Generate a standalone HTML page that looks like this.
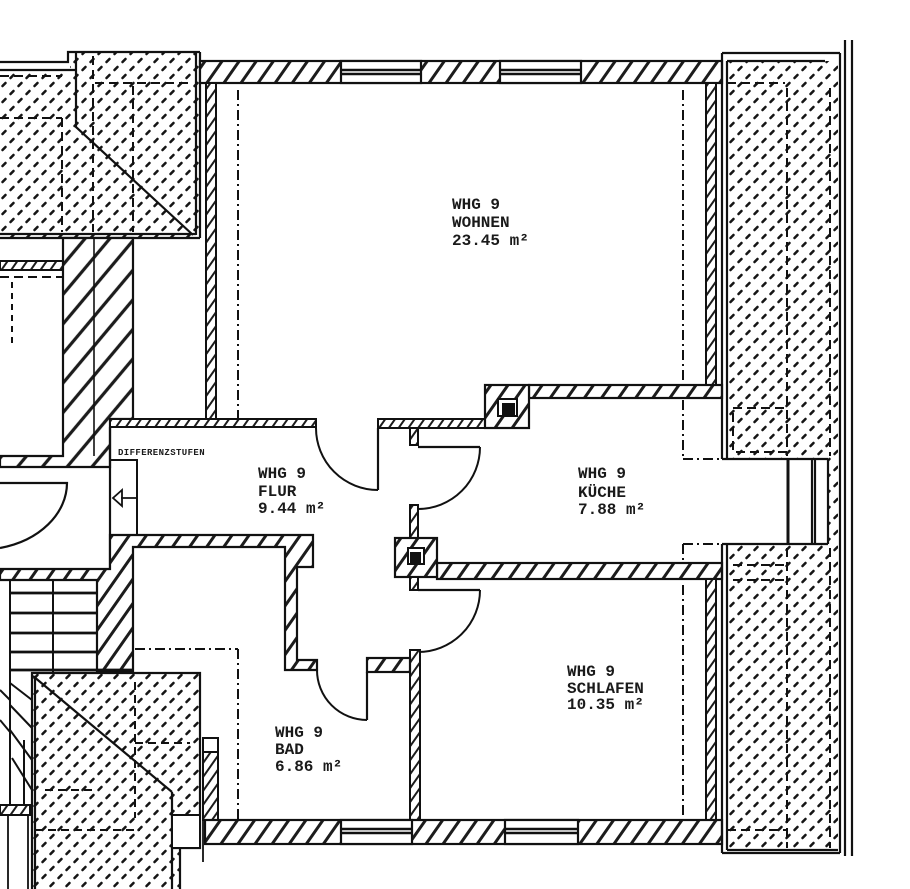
<!DOCTYPE html>
<html><head><meta charset="utf-8"><style>
html,body{margin:0;padding:0;background:#fff;}
svg{display:block;}
text{font-family:"Liberation Mono","DejaVu Sans Mono",monospace;font-weight:bold;fill:#1a1a1a;}
</style></head><body>
<svg xmlns="http://www.w3.org/2000/svg" width="910" height="889" viewBox="0 0 910 889">
<defs>
 <pattern id="h" width="14" height="14" patternUnits="userSpaceOnUse" patternTransform="rotate(35)"><rect width="14" height="14" fill="#fff"/><line x1="7" y1="-1" x2="7" y2="15" stroke="#1c1c1c" stroke-width="3"/></pattern>
 <pattern id="hb" width="19" height="19" patternUnits="userSpaceOnUse" patternTransform="rotate(40)"><rect width="19" height="19" fill="#fff"/><line x1="9.5" y1="-1" x2="9.5" y2="20" stroke="#1c1c1c" stroke-width="3.2"/></pattern>
 <pattern id="hs" width="8" height="8" patternUnits="userSpaceOnUse" patternTransform="rotate(35)"><rect width="8" height="8" fill="#fff"/><line x1="4" y1="-1" x2="4" y2="9" stroke="#1c1c1c" stroke-width="2"/></pattern>
 <pattern id="d" width="16" height="16" patternUnits="userSpaceOnUse"><rect width="16" height="16" fill="#fff"/><path d="M2.5 6L5.5 3M10.5 14L13.5 11" stroke="#151515" stroke-width="2.6" stroke-linecap="round"/></pattern>
</defs>
<rect width="910" height="889" fill="#fff"/>

<g stroke="#111" stroke-width="2" fill="none">

<!-- ===== top-left dotted block ===== -->
<path d="M0,72 H70 V52 H200 V238 H0 Z" fill="url(#d)" stroke="none"/>
<path d="M0,62 H68 V52 H200 M0,70 H76 M76,52 V127 L193,235 M196,52 V235 M200,52 V238 M0,234 H196 M0,238 H200" stroke-width="2.2"/>
<path d="M62,118 V232 M93,56 V232 M133,86 V232 M95,83 H190 M0,76 H62 M0,118 H62" stroke-dasharray="9 5" stroke-width="2"/>

<!-- left strip -->
<rect x="0" y="261" width="63" height="9" fill="url(#hs)"/>
<path d="M0,277 H63" stroke-dasharray="9 5"/>
<path d="M12,282 V345" stroke-dasharray="6 5"/>

<!-- thick hatched wall -->
<path d="M63,238 H133 V419 H110 V467 H0 V456 H63 Z" fill="url(#hb)" stroke-width="2.2"/>
<path d="M94,238 V456" stroke-width="1.6"/>

<!-- Flur top wall -->
<rect x="110" y="419" width="206" height="8" fill="url(#hs)"/>
<path d="M110,427 V569" stroke-width="2.2"/>
<!-- step box + arrow -->
<rect x="110" y="460" width="27" height="75"/>
<path d="M137,498 H121 M122,490 L113,498 L122,506 Z" stroke-width="1.8"/>

<!-- D shape -->
<path d="M0,483 H67 A87,67 0 0 1 0,548" stroke-width="2.2"/>

<!-- lower hatched wall -->
<path d="M110,535 H313 V567 H297 V660 H317 V670 H285 V547 H133 V672 H97 V580 H0 V569 H110 Z" fill="url(#h)" stroke-width="2.2"/>

<!-- stairs -->
<path d="M10,593 H97 M10,613 H97 M10,633 H97 M10,652 H97 M10,670 H133" stroke-width="2.8"/>
<path d="M10,580 V805 M53,580 V672" stroke-width="2"/>

<!-- winder lines -->
<path d="M10,683 L32,700 M10,705 L32,728 M10,730 L32,760 M12,758 L32,790 M0,690 L10,700 M0,720 L10,732 M24,740 V805" stroke-width="2"/>
<path d="M45,690 L80,718 M50,720 L85,750 M60,750 L90,780" stroke-width="1.8"/>
<rect x="0" y="805" width="30" height="10" fill="url(#hs)"/>
<path d="M8,815 V889 M28,815 V889" stroke-width="1.8"/>

<!-- bottom-left dotted block -->
<path d="M32,673 H200 V848 H180 V889 H32 Z" fill="url(#d)" stroke="none"/>
<path d="M32,889 V673 H200 V848 H172 M35,889 V676 M172,792 V889 M180,848 V889" stroke-width="2.2"/>
<path d="M33,676 L172,792" stroke-width="2.2"/>
<rect x="172" y="815" width="28" height="33" fill="#fff"/>
<path d="M135,682 V818 M35,830 H140 M135,743 H190 M45,790 H95" stroke-dasharray="8 5" stroke-width="2"/>

<!-- small box right of dotted -->
<rect x="203" y="738" width="15" height="82" fill="url(#hs)"/>
<rect x="203" y="738" width="15" height="14" fill="#fff"/>
<path d="M203,820 V862" stroke-width="1.8"/>

<!-- Bad dashed -->
<path d="M135,649 H238 M238,649 V820" stroke-dasharray="10 4 2 4" stroke-width="2"/>

<!-- ===== Wohnen ===== -->
<rect x="200" y="61" width="522" height="22" fill="url(#h)" stroke-width="2.2"/>
<rect x="341" y="61" width="80" height="22" fill="#fff" stroke-width="2.2"/>
<rect x="500" y="61" width="81" height="22" fill="#fff" stroke-width="2.2"/>
<path d="M341,70 H421 M341,74 H421 M500,70 H581 M500,74 H581" stroke-width="2.4"/>

<rect x="206" y="83" width="10" height="336" fill="url(#hs)"/>
<rect x="706" y="83" width="10" height="302" fill="url(#hs)"/>
<path d="M238,90 V418 M683,90 V384" stroke-dasharray="10 4 2 4"/>

<!-- chimney 1 + walls -->
<rect x="529" y="385" width="193" height="13" fill="url(#h)" stroke-width="2.2"/>
<rect x="378" y="419" width="107" height="9" fill="url(#hs)"/>
<rect x="485" y="385" width="44" height="43" fill="url(#h)" stroke-width="2.2"/>
<rect x="498" y="399" width="19" height="17" fill="#fff"/>
<rect x="502" y="403" width="13" height="13" fill="#111" stroke="none"/>
<rect x="410" y="428" width="8" height="17" fill="url(#hs)"/>

<!-- doors -->
<path d="M378,428 V490" stroke-width="2.2"/>
<path d="M316,428 A62,62 0 0 0 378,490" stroke-width="2"/>
<path d="M418,447 H480" stroke-width="2.2"/>
<path d="M480,447 A62,62 0 0 1 418,509" stroke-width="2"/>
<path d="M418,590 H480" stroke-width="2.2"/>
<path d="M480,590 A62,62 0 0 1 418,652" stroke-width="2"/>
<path d="M367,672 V720" stroke-width="2.2"/>
<path d="M317,670 A50,50 0 0 0 367,720" stroke-width="2"/>

<!-- chimney 2 and walls -->
<rect x="410" y="505" width="8" height="33" fill="url(#hs)"/>
<rect x="437" y="563" width="285" height="16" fill="url(#h)" stroke-width="2.2"/>
<rect x="395" y="538" width="42" height="39" fill="url(#h)" stroke-width="2.2"/>
<rect x="408" y="548" width="16" height="16" fill="#fff"/>
<rect x="410" y="552" width="11" height="11" fill="#111" stroke="none"/>
<rect x="410" y="577" width="8" height="13" fill="url(#hs)"/>

<!-- Bad / Schlafen walls -->
<rect x="410" y="650" width="10" height="170" fill="url(#hs)"/>
<rect x="367" y="658" width="43" height="14" fill="url(#h)" stroke-width="2.2"/>
<rect x="706" y="579" width="10" height="241" fill="url(#hs)"/>
<path d="M683,585 V818" stroke-dasharray="10 4 2 4"/>

<!-- kitchen right -->
<path d="M683,400 V459 M683,544 V563 M683,459 H722 M683,544 H722" stroke-dasharray="10 4 2 4"/>

<!-- bottom wall -->
<rect x="205" y="820" width="517" height="24" fill="url(#h)" stroke-width="2.2"/>
<rect x="341" y="820" width="71" height="24" fill="#fff" stroke-width="2.2"/>
<rect x="505" y="820" width="73" height="24" fill="#fff" stroke-width="2.2"/>
<path d="M341,829 H412 M341,833 H412 M505,829 H578 M505,833 H578" stroke-width="2.4"/>

<!-- ===== right dotted block ===== -->
<rect x="727" y="61" width="111" height="398" fill="url(#d)" stroke="none"/>
<rect x="727" y="544" width="111" height="307" fill="url(#d)" stroke="none"/>
<rect x="828" y="459" width="10" height="85" fill="url(#d)" stroke="none"/>
<rect x="788" y="459" width="40" height="85" fill="#fff" stroke="none"/>
<path d="M722,53 V459 M727,61 V459 M722,544 V853 M727,544 V850 M722,53 H840 M727,61 H825 M840,53 V853 M722,853 H840 M727,850 H838" stroke-width="2.2"/>
<path d="M845,40 V856 M852,40 V856" stroke-width="2.2"/>
<path d="M722,459 H828 M722,544 H828 M812,459 V544 M815,459 V544 M828,459 V544" stroke-width="2.2"/>
<path d="M788,459 V544" stroke-width="3"/>
<path d="M787,88 V456 M830,88 V456 M727,83 H785 M787,548 V848 M830,548 V848 M733,408 H787 V452 H733 Z M733,565 H787 M733,580 H787 M727,830 H787" stroke-dasharray="9 5" stroke-width="2"/>
<path d="M716,398 H722" stroke-width="2"/>
</g>

<!-- ===== labels ===== -->
<g font-size="16">
 <text x="452" y="209">WHG 9</text>
 <text x="452" y="227">WOHNEN</text>
 <text x="452" y="245">23.45 m²</text>

 <text x="258" y="478">WHG 9</text>
 <text x="258" y="496">FLUR</text>
 <text x="258" y="513">9.44 m²</text>

 <text x="578" y="478">WHG 9</text>
 <text x="578" y="497">KÜCHE</text>
 <text x="578" y="514">7.88 m²</text>

 <text x="567" y="676">WHG 9</text>
 <text x="567" y="693">SCHLAFEN</text>
 <text x="567" y="709">10.35 m²</text>

 <text x="275" y="737">WHG 9</text>
 <text x="275" y="754">BAD</text>
 <text x="275" y="771">6.86 m²</text>
</g>
<text x="118" y="455" font-size="9" letter-spacing="0.4">DIFFERENZSTUFEN</text>
</svg>
</body></html>
